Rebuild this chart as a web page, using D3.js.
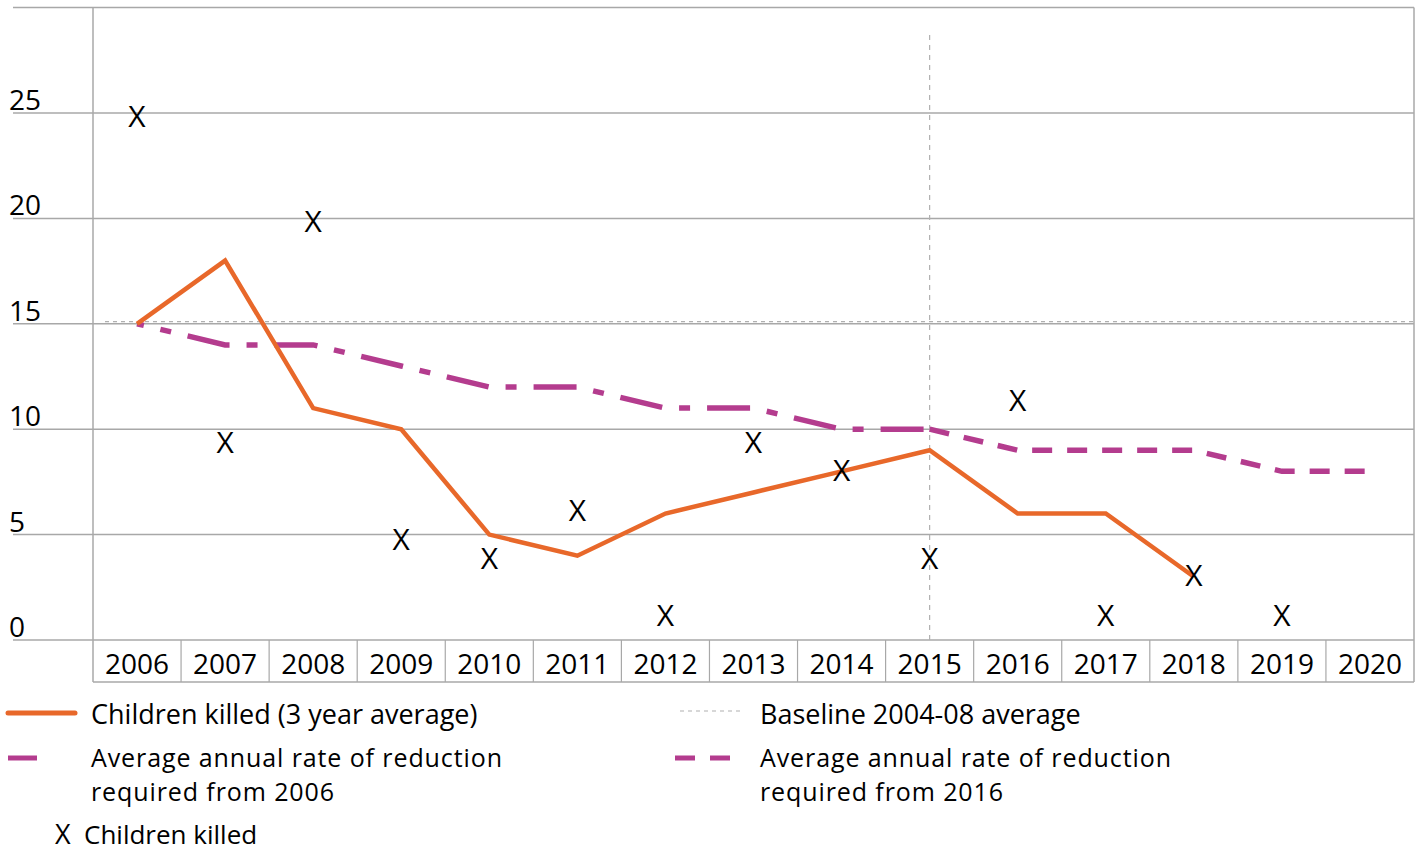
<!DOCTYPE html>
<html>
<head>
<meta charset="utf-8">
<script src="https://cdn.jsdelivr.net/npm/d3@7"></script>
<style>
  body { margin: 0; background: #fff; }
  text { font-family: "Open Sans", "Noto Sans", sans-serif; fill: #000; }
</style>
</head>
<body>
<div id="chart"></div>
<script>
"use strict";

// data
var years = ["2006","2007","2008","2009","2010","2011","2012","2013","2014","2015","2016","2017","2018","2019","2020"];
var yTicks = [0, 5, 10, 15, 20, 25];

var avgYears   = ["2006","2007","2008","2009","2010","2011","2012","2013","2014","2015","2016","2017","2018"];
var avgValues  = [15, 18, 11, 10, 5, 4, 6, 7, 8, 9, 6, 6, 3];

var from2006Years  = ["2006","2007","2008","2009","2010","2011","2012","2013","2014","2015"];
var from2006Values = [15, 14, 14, 13, 12, 12, 11, 11, 10, 10];

var from2016Years  = ["2015","2016","2017","2018","2019","2020"];
var from2016Values = [10, 9, 9, 9, 8, 8];

var killedYears  = ["2006","2007","2008","2009","2010","2011","2012","2013","2014","2015","2016","2017","2018","2019"];
var killedValues = [24.9, 9.4, 19.9, 4.8, 3.9, 6.2, 1.2, 9.4, 8.1, 3.9, 11.4, 1.2, 3.1, 1.2];

var baselineValue = 15.1;
var markerYear = "2015";

// layout
var W = 1424, H = 851;
var plotLeft = 93, plotRight = 1414, plotTop = 7.6, zeroY = 640, axisBottom = 682;
var orange = "#e8682a", magenta = "#b43c8e", grid = "#a8a8a8";
var legendFont = "27px";

var svg = d3.select("#chart").append("svg")
  .attr("width", W).attr("height", H);

var x = d3.scaleBand().domain(years).range([plotLeft, plotRight]).padding(0);
var y = d3.scaleLinear().domain([0, 30]).range([zeroY, plotTop]);
var cx = d => x(d) + x.bandwidth() / 2;

// gridlines (extend left past the axis, like the original)
svg.append("g").selectAll("line")
  .data(yTicks.concat([30]))
  .join("line")
    .attr("x1", 13).attr("x2", plotRight)
    .attr("y1", d => y(d)).attr("y2", d => y(d))
    .attr("stroke", grid).attr("stroke-width", 1.5);

// y tick labels sit above their gridline
svg.append("g").selectAll("text")
  .data(yTicks)
  .join("text")
    .attr("x", 9)
    .attr("y", d => y(d) - 14)
    .attr("dominant-baseline", "central")
    .style("font-size", "28px")
    .text(d => d);

// axis frame and category table
svg.append("line").attr("x1", plotLeft).attr("x2", plotLeft).attr("y1", y(30)).attr("y2", axisBottom)
  .attr("stroke", grid).attr("stroke-width", 1.5);
svg.append("line").attr("x1", plotRight).attr("x2", plotRight).attr("y1", y(30)).attr("y2", axisBottom)
  .attr("stroke", grid).attr("stroke-width", 1.5);
svg.append("line").attr("x1", plotLeft).attr("x2", plotRight).attr("y1", axisBottom).attr("y2", axisBottom)
  .attr("stroke", grid).attr("stroke-width", 1.5);
svg.append("g").selectAll("line")
  .data(years.slice(1))
  .join("line")
    .attr("x1", d => x(d)).attr("x2", d => x(d))
    .attr("y1", zeroY).attr("y2", axisBottom)
    .attr("stroke", grid).attr("stroke-width", 1.2);

svg.append("g").selectAll("text")
  .data(years)
  .join("text")
    .attr("x", d => cx(d))
    .attr("y", 663)
    .attr("text-anchor", "middle")
    .attr("dominant-baseline", "central")
    .style("font-size", "28px")
    .text(d => d);

// baseline and 2015 marker
svg.append("line")
  .attr("x1", plotLeft + 12).attr("x2", plotRight)
  .attr("y1", y(baselineValue)).attr("y2", y(baselineValue))
  .attr("stroke", "#b0b0b0").attr("stroke-width", 1.2)
  .attr("stroke-dasharray", "4,4");
svg.append("line")
  .attr("x1", cx(markerYear)).attr("x2", cx(markerYear))
  .attr("y1", y(28.7)).attr("y2", zeroY)
  .attr("stroke", "#b0b0b0").attr("stroke-width", 1.2)
  .attr("stroke-dasharray", "5,5");

var line = d3.line().x(d => cx(d[0])).y(d => y(d[1]));

// required from 2006 (dash-dot)
svg.append("path")
  .datum(d3.zip(from2006Years, from2006Values))
  .attr("d", line)
  .attr("fill", "none").attr("stroke", magenta).attr("stroke-width", 5.5)
  .attr("stroke-dasharray", "43,17,11,17").attr("stroke-dashoffset", 36);

// required from 2016 (dashed)
svg.append("path")
  .datum(d3.zip(from2016Years, from2016Values))
  .attr("d", line)
  .attr("fill", "none").attr("stroke", magenta).attr("stroke-width", 5.5)
  .attr("stroke-dasharray", "20,15");

// 3 year average
svg.append("path")
  .datum(d3.zip(avgYears, avgValues))
  .attr("d", line)
  .attr("fill", "none").attr("stroke", orange).attr("stroke-width", 4.5)
  .attr("stroke-linejoin", "miter");

// children killed markers
svg.append("g").selectAll("text")
  .data(d3.zip(killedYears, killedValues))
  .join("text")
    .attr("x", d => cx(d[0]))
    .attr("y", d => y(d[1]))
    .attr("text-anchor", "middle")
    .attr("dominant-baseline", "central")
    .style("font-size", "30px")
    .text("X");

// legend
var lg = svg.append("g");

// two-line legend labels: slightly smaller font, spaced out, so lines don't collide
function twoLines(xPos, yPos, lines) {
  lines.forEach(function(s, i) {
    lg.append("text").attr("x", xPos).attr("y", yPos + i * 34)
      .attr("dominant-baseline", "central")
      .style("font-size", "25px")
      .style("letter-spacing", "0.9px")
      .text(s);
  });
}

lg.append("line").attr("x1", 8).attr("x2", 75).attr("y1", 713).attr("y2", 713)
  .attr("stroke", orange).attr("stroke-width", 5).attr("stroke-linecap", "round");
lg.append("text").attr("x", 91).attr("y", 713).attr("dominant-baseline", "central")
  .style("font-size", legendFont).text("Children killed (3 year average)");

lg.append("line").attr("x1", 8).attr("x2", 37).attr("y1", 758).attr("y2", 758)
  .attr("stroke", magenta).attr("stroke-width", 5);
twoLines(91, 757, ["Average annual rate of reduction", "required from 2006"]);

lg.append("line").attr("x1", 680).attr("x2", 740).attr("y1", 711).attr("y2", 711)
  .attr("stroke", "#b0b0b0").attr("stroke-width", 1.2).attr("stroke-dasharray", "4,4");
lg.append("text").attr("x", 760).attr("y", 713).attr("dominant-baseline", "central")
  .style("font-size", legendFont).text("Baseline 2004-08 average");

lg.append("line").attr("x1", 675).attr("x2", 740).attr("y1", 758).attr("y2", 758)
  .attr("stroke", magenta).attr("stroke-width", 5).attr("stroke-dasharray", "20,15");
twoLines(760, 757, ["Average annual rate of reduction", "required from 2016"]);

lg.append("text").attr("x", 55).attr("y", 844)
  .style("font-size", "27px").text("X");
lg.append("text").attr("x", 84).attr("y", 844)
  .style("font-size", "26px").text("Children killed");
</script>
</body>
</html>
